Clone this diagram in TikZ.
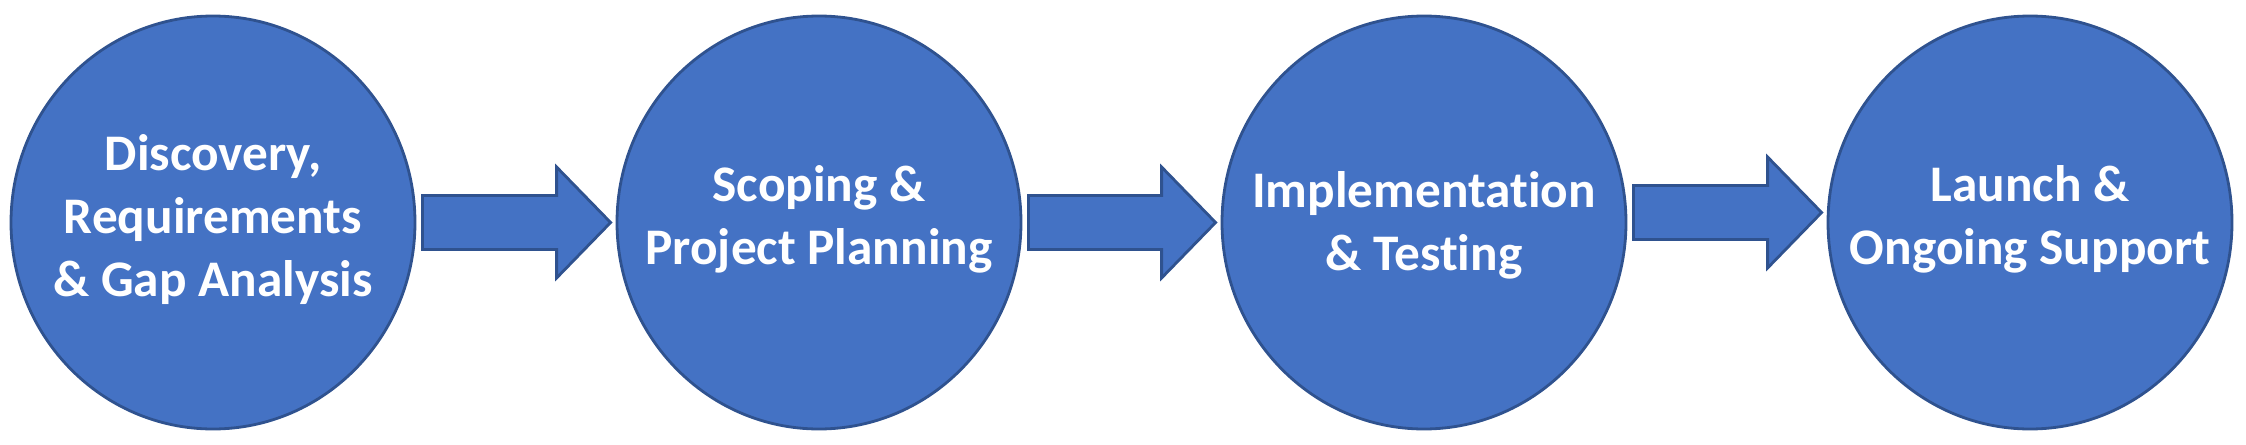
\documentclass[tikz,border=0pt]{standalone}
\usepackage{fontspec}
\setmainfont{Carlito}[Ligatures=NoCommon]
\usepackage{tikz}
\usetikzlibrary{shapes.geometric, arrows.meta, positioning, calc}

\definecolor{phaseblue}{HTML}{4472C4}
\definecolor{phaseedge}{HTML}{2F528F}

\begin{document}
\begin{tikzpicture}[
    phase/.style={ellipse, draw=phaseedge, line width=0.8pt, fill=phaseblue,
        minimum width=4.04cm, minimum height=4.13cm, inner sep=0pt},
    phasetext/.style={text=white, align=center, inner sep=0pt,
        font=\bfseries\fontsize{14.6}{17.8}\selectfont},
    flowarrow/.style={draw=phaseedge, line width=0.8pt, fill=phaseblue, line join=miter}
]
    \useasboundingbox (0,0) rectangle (22.46,4.44);

    % Phases
    \node[phase] (disc) at (2.13,2.215) {};
    \node[phasetext] (disctext) at ($(disc.center)+(0,0.03)$) {Discovery,\\Requirements\\\& Gap Analysis};
    \node[phase] (scope) at (8.19,2.215) {};
    \node[phasetext] (scopetext) at ($(scope.center)+(0,0.03)$) {Scoping \&\\Project Planning};
    \node[phase] (impl) at (14.24,2.215) {};
    \node[phasetext] (impltext) at ($(impl.center)+(0,-0.03)$) {Implementation\\\& Testing};
    \node[phase] (launch) at (20.30,2.215) {};
    \node[phasetext] (launchtext) at ($(launch.center)+(0,0.03)$) {Launch \&\\Ongoing Support};

    % Block arrows between phases
    \foreach \a/\b/\dy in {disc/scope/0, scope/impl/0, impl/launch/0.1} {
        \draw[flowarrow] ($(\a.east)+(0.06,0.27+\dy)$) -- ($(\b.west)+(-0.59,0.27+\dy)$)
            -- ++(0,0.285) -- ($(\b.west)+(-0.05,\dy)$) -- ++(-0.54,-0.555)
            -- ++(0,0.285) -- ($(\a.east)+(0.06,-0.27+\dy)$) -- cycle;
    }
\end{tikzpicture}
\end{document}
